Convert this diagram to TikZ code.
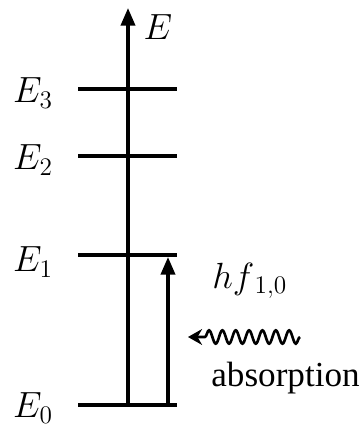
\documentclass[tikz,border=0pt]{standalone}
\usepackage{fontspec}
\setmainfont{Liberation Serif}
\usetikzlibrary{arrows.meta, decorations.pathmorphing}

\begin{document}
\begin{tikzpicture}[x=0.02cm, y=-0.02cm,
    level/.style={line width=1.9pt},
    axis/.style={line width=1.9pt, -{Triangle[length=10pt, width=8pt]}},
    lbl/.style={font=\fontsize{20}{24}\selectfont, inner sep=0pt},
    photon/.style={line width=1.5pt, -{Stealth[length=8pt, width=9pt]}, decorate,
        decoration={snake, amplitude=3.8pt, segment length=7.6pt, post length=6pt}},
]
\useasboundingbox (0,0) rectangle (360,429);
% energy levels
\foreach \name/\y in {e3/89, e2/156, e1/255, e0/405} {
    \coordinate (\name l) at (78,\y);
    \coordinate (\name r) at (177,\y);
    \draw[level] (\name l) -- (\name r);
}
% energy axis
\coordinate (axb) at (128,405);
\coordinate (axt) at (128,8);
\draw[axis] (axb) -- (axt);
\node[lbl] (elbl) at (158,27) {$E$};
% level labels
\node[lbl] (lbl3) at (33,93) {$E_3$};
\node[lbl] (lbl2) at (33,160) {$E_2$};
\node[lbl] (lbl1) at (33,262) {$E_1$};
\node[lbl] (lbl0) at (33,408) {$E_0$};
% transition
\coordinate (up0) at (168,405);
\coordinate (up1) at (168,257);
\draw[axis] (up0) -- (up1);
\node[lbl, anchor=west] (hf) at (212,281) {$hf_{\,1,0}$};
% incoming photon
\coordinate (phs) at (300,337);
\coordinate (phe) at (188,337);
\draw[photon] (phs) -- (phe);
\node[lbl, anchor=west] (abs) at (211,378) {absorption};
\end{tikzpicture}
\end{document}
